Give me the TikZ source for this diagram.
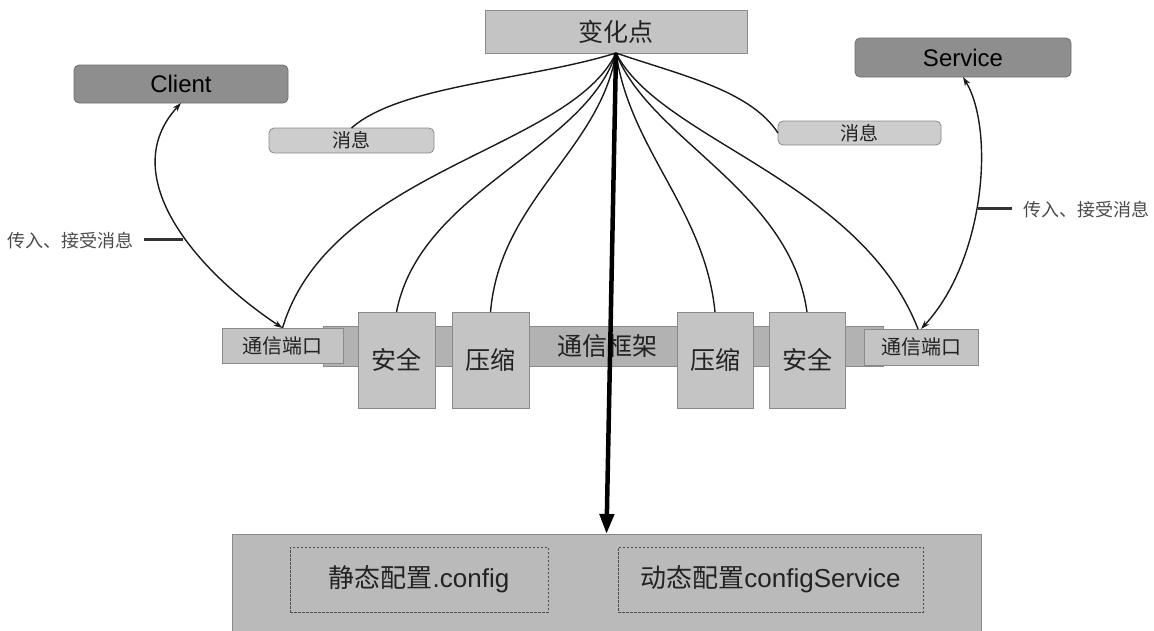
\documentclass[tikz,border=0pt]{standalone}
\usepackage{fontspec}
\setmainfont{Liberation Sans}
\newfontfamily\cjk{Noto Sans CJK SC}
\usetikzlibrary{arrows.meta}
\definecolor{boxfill}{HTML}{C4C4C4}
\definecolor{boxline}{HTML}{8A8A8A}
\definecolor{bandfill}{HTML}{B2B2B2}
\definecolor{darkfill}{HTML}{8E8E8E}
\definecolor{darkline}{HTML}{6E6E6E}
\definecolor{msgfill}{HTML}{CDCDCD}
\definecolor{txt}{HTML}{222222}
\definecolor{lbltxt}{HTML}{4A4A4A}
\definecolor{curve}{HTML}{1A1A1A}
\tikzset{
  gbox/.style={draw=boxline, fill=boxfill, line width=0.8pt, inner sep=0pt, outer sep=0pt, text=txt},
  darkbox/.style={draw=darkline, fill=darkfill, rounded corners=5pt, line width=0.8pt, inner sep=0pt, outer sep=0pt, text=black},
  msgbox/.style={draw=boxline, fill=msgfill, rounded corners=5pt, line width=0.8pt, inner sep=0pt, outer sep=0pt, text=txt},
  dashbox/.style={draw=black!70, dash pattern=on 2.5pt off 1.5pt, line width=0.7pt, inner sep=0pt, outer sep=0pt, text=txt},
  lbl/.style={text=lbltxt, inner sep=0pt, outer sep=0pt},
  fan/.style={draw=curve, line width=1.4pt},
  dbl/.style={draw=curve, line width=1.4pt, {Stealth[length=9pt,width=6pt]}-{Stealth[length=9pt,width=6pt]}},
  tick/.style={draw=black!80, line width=3pt},
  bigarrow/.style={draw=black, line width=4.5pt, -{Triangle[length=20pt,width=14pt]}}
}
\begin{document}
\begin{tikzpicture}[x=1pt,y=-1pt]
\useasboundingbox (0,0) rectangle (1154,630);
\clip (0,0) rectangle (1154,630);

% top hub box
\node[gbox, minimum width=262pt, minimum height=43pt, font=\cjk\fontsize{25}{25}\selectfont] (top) at (616,31.5) {变化点};

% client / service
\node[darkbox, minimum width=214pt, minimum height=38pt, font=\fontsize{24}{24}\selectfont] (client) at (181,84) {Client};
\node[darkbox, minimum width=216pt, minimum height=39pt, font=\fontsize{24}{24}\selectfont] (service) at (963,57.5) {Service};

% message boxes
\node[msgbox, minimum width=165pt, minimum height=25pt, font=\cjk\fontsize{19}{19}\selectfont] (msgL) at (351.5,140.5) {消息};
\node[msgbox, minimum width=163pt, minimum height=24pt, font=\cjk\fontsize{19}{19}\selectfont] (msgR) at (859.5,133) {消息};

% framework band
\node[gbox, fill=bandfill, minimum width=560pt, minimum height=40pt] (band) at (603,346) {};
\node[inner sep=0pt, text=txt, font=\cjk\fontsize{25}{25}\selectfont] (bandtxt) at (607,346) {通信框架};

% ports
\node[gbox, minimum width=121pt, minimum height=35pt, font=\cjk\fontsize{20}{20}\selectfont] (portL) at (282.5,345.5) {通信端口};
\node[gbox, minimum width=114pt, minimum height=36pt, font=\cjk\fontsize{20}{20}\selectfont] (portR) at (921,347) {通信端口};

% modules
\node[gbox, minimum width=77pt, minimum height=96pt, font=\cjk\fontsize{25}{25}\selectfont] (secL) at (396.5,360) {安全};
\node[gbox, minimum width=77pt, minimum height=96pt, font=\cjk\fontsize{25}{25}\selectfont] (cmpL) at (490.5,360) {压缩};
\node[gbox, minimum width=76pt, minimum height=96pt, font=\cjk\fontsize{25}{25}\selectfont] (cmpR) at (715,360) {压缩};
\node[gbox, minimum width=76pt, minimum height=96pt, font=\cjk\fontsize{25}{25}\selectfont] (secR) at (807,360) {安全};

% bottom configuration box
\node[gbox, fill=boxfill!95!black, minimum width=749pt, minimum height=116pt] (bottom) at (606.5,592) {};
\node[dashbox, minimum width=258pt, minimum height=65pt, font=\fontsize{26}{26}\selectfont] (static) at (419,579.5) {{\cjk 静态配置}.config};
\node[dashbox, minimum width=305pt, minimum height=65pt, font=\fontsize{26}{26}\selectfont] (dynamic) at (770.5,579.5) {{\cjk 动态配置}configService};

% fan of curves from the change point
\draw[fan] (top.south) .. controls (530,80) and (400,85) .. (msgL.north);
\draw[fan] (top.south) .. controls (570,150) and (330,170) .. (portL.north);
\draw[fan] (top.south) .. controls (585,150) and (420,190) .. (secL.north);
\draw[fan] (top.south) .. controls (600,150) and (500,200) .. (cmpL.north);
\draw[fan] (top.south) .. controls (630,150) and (705,210) .. (cmpR.north);
\draw[fan] (top.south) .. controls (650,140) and (790,190) .. (secR.north);
\draw[fan] (top.south) .. controls (660,140) and (860,180) .. ([xshift=-3pt]portR.north);
\draw[fan] (top.south) .. controls (680,75) and (750,90) .. (msgR.west);

% client / service message arrows
\draw[dbl] (client.south) .. controls (115,175) and (195,270) .. (portL.north);
\draw[dbl] (service.south) .. controls (995,130) and (985,260) .. (portR.north);

% side labels
\node[lbl, anchor=west, font=\cjk\fontsize{18}{18}\selectfont] (lblL) at (7,241) {传入、接受消息};
\coordinate (onL) at (183,239);
\draw[tick] ([xshift=11pt,yshift=2pt]lblL.east) -- (onL);
\node[lbl, anchor=west, font=\cjk\fontsize{18}{18}\selectfont] (lblR) at (1023,210) {传入、接受消息};
\coordinate (onR) at (978,208);
\draw[tick] ([xshift=-11pt,yshift=2pt]lblR.west) -- (onR);

% thick arrow to configuration
\draw[bigarrow] (top.south) -- (bottom.north);
\end{tikzpicture}
\end{document}
